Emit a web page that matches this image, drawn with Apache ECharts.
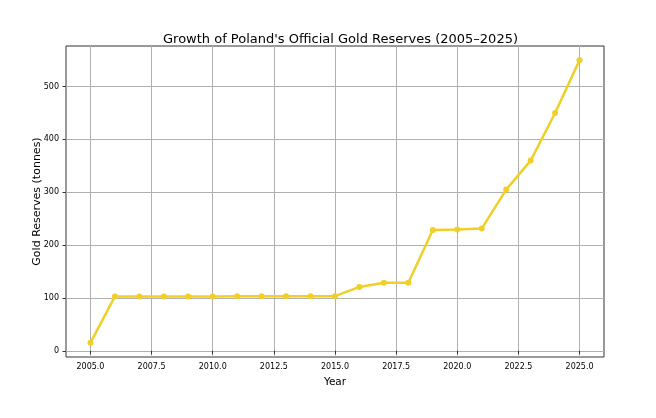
<!DOCTYPE html>
<html><head><meta charset="utf-8">
<script src="https://cdn.jsdelivr.net/npm/echarts@6/dist/echarts.min.js"></script>
<style>html,body{margin:0;padding:0;background:#fff}#c{width:656px;height:418px}</style>
</head><body><div id="c"></div>
<script>
var years = [2005,2006,2007,2008,2009,2010,2011,2012,2013,2014,2015,2016,2017,2018,2019,2020,2021,2022,2023,2024,2025];
var reserves = [15,102.9,102.9,102.9,102.9,102.9,103.4,103.4,103.4,103.4,103.4,120.9,128.6,128.6,228.6,229.6,231.2,305,359.9,450,550];
var xTicks = [2005,2007.5,2010,2012.5,2015,2017.5,2020,2022.5,2025];
var yTicks = [0,100,200,300,400,500];
var titleText = "Growth of Poland's Official Gold Reserves (2005\u20132025)";
var xName = 'Year';
var yName = 'Gold Reserves (tonnes)';

var font = 'DejaVu Sans';
var chart = echarts.init(document.getElementById('c'), null, {renderer:'canvas'});
chart.setOption({
  animation: false,
  backgroundColor: '#fff',
  title: {text: titleText, left: 158, top: 28,
    textStyle: {fontFamily: font, fontSize: 13, fontWeight: 'normal', color: '#000'}},
  grid: {left: 66, right: 52, top: 46, bottom: 61, show: true, borderColor: '#333', borderWidth: 1, containLabel: false},
  xAxis: {type: 'value', min: 2004, max: 2026,
    name: xName, nameLocation: 'middle', nameGap: 20,
    nameTextStyle: {fontFamily: font, fontSize: 10.5, color: '#000'},
    axisLine: {show: false},
    axisTick: {show: true, customValues: xTicks, length: 3.5, lineStyle: {color: '#333'}},
    axisLabel: {customValues: xTicks, fontFamily: font, fontSize: 8, color: '#000', margin: 6,
      formatter: function(v){return Number(v).toFixed(1);}},
    splitLine: {show: true, customValues: xTicks, lineStyle: {color: '#b0b0b0', width: 1}}
  },
  yAxis: {type: 'value', min: -11.75, max: 576.75,
    name: yName, nameLocation: 'middle', nameGap: 23, nameRotate: 90, nameMoveOverlap: false,
    nameTextStyle: {fontFamily: font, fontSize: 11, color: '#000'},
    axisLine: {show: false},
    axisTick: {show: true, customValues: yTicks, length: 3.5, lineStyle: {color: '#333'}},
    axisLabel: {customValues: yTicks, fontFamily: font, fontSize: 8, color: '#000', margin: 7},
    splitLine: {show: true, customValues: yTicks, lineStyle: {color: '#b0b0b0', width: 1}}
  },
  series: [{
    type: 'line',
    data: years.map(function(y,i){return [y, reserves[i]];}),
    symbol: 'circle', symbolSize: 6,
    lineStyle: {color: '#F0CF28', width: 2.5},
    itemStyle: {color: '#F0CF28'}
  }]
});
</script></body></html>
